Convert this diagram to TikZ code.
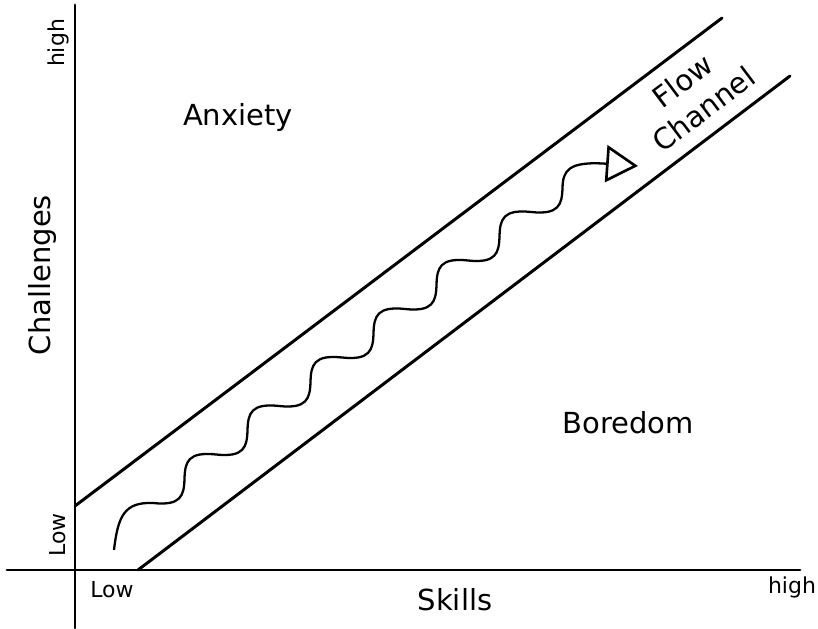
\documentclass[tikz,border=0pt]{standalone}
\usepackage{fontspec}
\setmainfont{DejaVu Sans}
\usetikzlibrary{arrows.meta}

\begin{document}
\begin{tikzpicture}[
  x=0.2mm, y=0.2mm,
  every node/.style={inner sep=0pt},
  axis/.style={line width=1.7pt, line cap=round},
  chan/.style={line width=1.7pt, line cap=round},
  wave/.style={line width=1.3pt,
    -{Triangle[open, length=6.4mm, width=7.4mm, line width=1.5pt]}},
  region/.style={font=\fontsize{16.5}{20}\selectfont},
  tick/.style={font=\fontsize{12.5}{14}\selectfont}
]
  \useasboundingbox (0,0) rectangle (818,629);

  % Axes
  \coordinate (ytop) at (75,624);
  \coordinate (ybot) at (75,1);
  \coordinate (xleft) at (7,59);
  \coordinate (xright) at (800,59);
  \draw[axis] (ybot) -- (ytop);
  \draw[axis] (xleft) -- (xright);

  % Channel borders
  \coordinate (upA) at (75,123);
  \coordinate (upB) at (722,611);
  \coordinate (loA) at (138,59);
  \coordinate (loB) at (790,553);
  \draw[chan] (upA) -- (upB);
  \draw[chan] (loA) -- (loB);

  % Wavy path up the channel (one stair per loop step)
  \coordinate (wstart) at (114,79);
  \coordinate (wfirst) at (153,126);
  \coordinate (wend) at (638,463);
  \draw[wave] (wstart) .. controls +(4,35) and +(-28,1) .. (wfirst)
    \foreach \k in {1,...,6} {
      .. controls +(28,-3) and +(-0.5,-17) .. ++(31.5,24.25)
      .. controls +(0.5,17) and +(-28,3) .. ++(31.5,24.25)
    }
    .. controls +(28,-3) and +(-0.5,-17) .. ++(31.5,24.25)
    .. controls +(0.5,17) and +(-70,5) .. (wend);

  % Region labels
  \node[region] (anx) at (238,511) {Anxiety};
  \node[region] (bor) at (628,206) {Boredom};
  \node[region, rotate=37, align=center] (flow) at (693,534) {Flow\\Channel};

  % Axis labels
  \node[region] (skl) at (455,29) {Skills};
  \node[region, rotate=90] (chl) at (42,354) {Challenges};
  \node[tick, rotate=90] (yhi) at (58,586) {high};
  \node[tick, rotate=90] (ylo) at (58,94) {Low};
  \node[tick] (xlo) at (112,39) {Low};
  \node[tick] (xhi) at (792,42) {high};
\end{tikzpicture}
\end{document}
